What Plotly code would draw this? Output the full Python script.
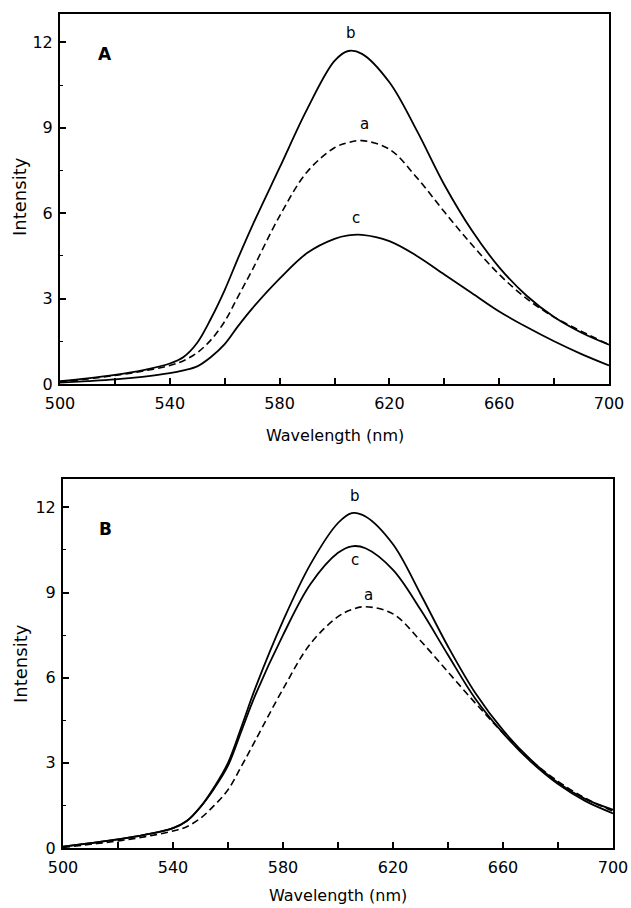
import plotly.graph_objects as go

W, H = 631, 908

# ---- data ----
wavelength = [500, 510, 520, 530, 540, 545, 550, 555, 560, 565, 570, 580, 590, 600, 605, 610, 620,
              630, 640, 650, 660, 670, 680, 690, 700]

# Panel A
a_A = [0.08, 0.18, 0.3, 0.45, 0.65, 0.82, 1.1, 1.55, 2.2, 3.1, 4.0, 5.9, 7.45, 8.3, 8.48, 8.55, 8.25,
       7.25, 6.05, 4.9, 3.85, 3.0, 2.35, 1.85, 1.38]
b_A = [0.1, 0.2, 0.32, 0.48, 0.72, 0.95, 1.45, 2.3, 3.3, 4.45, 5.55, 7.6, 9.65, 11.35, 11.7, 11.6, 10.6,
       8.9, 7.0, 5.4, 4.1, 3.1, 2.35, 1.8, 1.38]
c_A = [0.05, 0.1, 0.16, 0.25, 0.38, 0.48, 0.62, 0.95, 1.4, 2.05, 2.65, 3.7, 4.6, 5.1, 5.22, 5.24, 5.02,
       4.5, 3.85, 3.2, 2.55, 2.0, 1.5, 1.05, 0.65]

# Panel B
a_B = [0.02, 0.13, 0.25, 0.4, 0.6, 0.75, 1.05, 1.5, 2.05, 2.9, 3.8, 5.6, 7.2, 8.15, 8.4, 8.5, 8.25,
       7.3, 6.2, 5.1, 4.05, 3.1, 2.35, 1.75, 1.3]
b_B = [0.05, 0.17, 0.3, 0.47, 0.7, 0.95, 1.45, 2.15, 3.0, 4.3, 5.65, 8.0, 10.0, 11.45, 11.8, 11.68, 10.7,
       8.95, 7.1, 5.45, 4.15, 3.12, 2.3, 1.72, 1.35]
c_B = [0.05, 0.17, 0.3, 0.47, 0.7, 0.95, 1.45, 2.1, 2.9, 4.15, 5.4, 7.5, 9.3, 10.4, 10.63, 10.56, 9.8,
       8.4, 6.8, 5.25, 4.05, 3.05, 2.25, 1.65, 1.22]

x_label_ticks = [500, 540, 580, 620, 660, 700]
y_label_ticks = [0, 3, 6, 9, 12]

FONT = "DejaVu Sans"

fig = go.Figure()

def add_panel(xa, ya, a, b, c):
    fig.add_trace(go.Scatter(x=wavelength, y=a, mode="lines", line_shape="spline",
                             line=dict(color="black", width=1.6, dash="7px,4px"),
                             xaxis=xa, yaxis=ya, showlegend=False))
    for s in (b, c):
        fig.add_trace(go.Scatter(x=wavelength, y=s, mode="lines", line_shape="spline",
                                 line=dict(color="black", width=1.8),
                                 xaxis=xa, yaxis=ya, showlegend=False))

add_panel("x", "y", a_A, b_A, c_A)
add_panel("x2", "y2", a_B, b_B, c_B)

def px_x(v):
    return v / W

def px_y(v):
    return 1 - v / H

def xax(domain, anchor):
    return dict(domain=domain, anchor=anchor, range=[500, 700], tickvals=x_label_ticks,
                automargin=False,
                ticks="inside", ticklen=6, tickwidth=1.5, tickcolor="black",
                ticklabelstandoff=4,
                minor=dict(dtick=20, tick0=500, ticks="inside", ticklen=6, tickwidth=1.5, tickcolor="black"),
                showline=True, linecolor="black", linewidth=2, mirror=True,
                showgrid=False, zeroline=False,
                tickfont=dict(family=FONT, size=16, color="black"))

def yax(domain, anchor):
    return dict(domain=domain, anchor=anchor, range=[0, 13], tickvals=y_label_ticks,
                automargin=False,
                ticks="inside", ticklen=6, tickwidth=1.5, tickcolor="black",
                ticklabelstandoff=2,
                minor=dict(dtick=1.5, tick0=0, ticks="inside", ticklen=3, tickwidth=1, tickcolor="black"),
                showline=True, linecolor="black", linewidth=2, mirror=True,
                showgrid=False, zeroline=False,
                tickfont=dict(family=FONT, size=16, color="black"))

fig.update_layout(
    width=W, height=H, margin=dict(l=0, r=0, t=0, b=0, autoexpand=False),
    paper_bgcolor="white", plot_bgcolor="white",
    xaxis=xax([px_x(60), px_x(609)], "y"),
    yaxis=yax([px_y(384), px_y(14)], "x"),
    xaxis2=xax([px_x(63), px_x(613)], "y2"),
    yaxis2=yax([px_y(848), px_y(479)], "x2"),
)

ann = []
def txt(x, y, t, xref, yref, size=15, bold=False):
    ann.append(dict(x=x, y=y, xref=xref, yref=yref, text=("<b>%s</b>" % t) if bold else t,
                    xanchor="center", yanchor="middle",
                    showarrow=False, font=dict(family=FONT, size=size, color="black")))

# panel letters
txt(516.5, 11.6, "A", "x", "y", size=17, bold=True)
txt(515.5, 11.25, "B", "x2", "y2", size=17, bold=True)
# curve labels
txt(606, 12.35, "b", "x", "y")
txt(611, 9.15, "a", "x", "y")
txt(608, 5.85, "c", "x", "y")
txt(606, 12.4, "b", "x2", "y2")
txt(606, 10.15, "c", "x2", "y2")
txt(611, 8.9, "a", "x2", "y2")

# axis titles
for ycen in (197, 664):
    ann.append(dict(x=px_x(20), y=px_y(ycen), xref="paper", yref="paper", text="Intensity", textangle=-90,
                    xanchor="center", yanchor="middle",
                    showarrow=False, font=dict(family=FONT, size=18, color="black")))
for (xc, yc) in ((335, 435), (338, 895)):
    ann.append(dict(x=px_x(xc), y=px_y(yc), xref="paper", yref="paper", text="Wavelength (nm)",
                    xanchor="center", yanchor="middle",
                    showarrow=False, font=dict(family=FONT, size=16, color="black")))

fig.update_layout(annotations=ann)
fig.write_html("out.html", config={"displayModeBar": False},
               post_script="document.body.style.margin='0';document.body.style.overflow='hidden';")
